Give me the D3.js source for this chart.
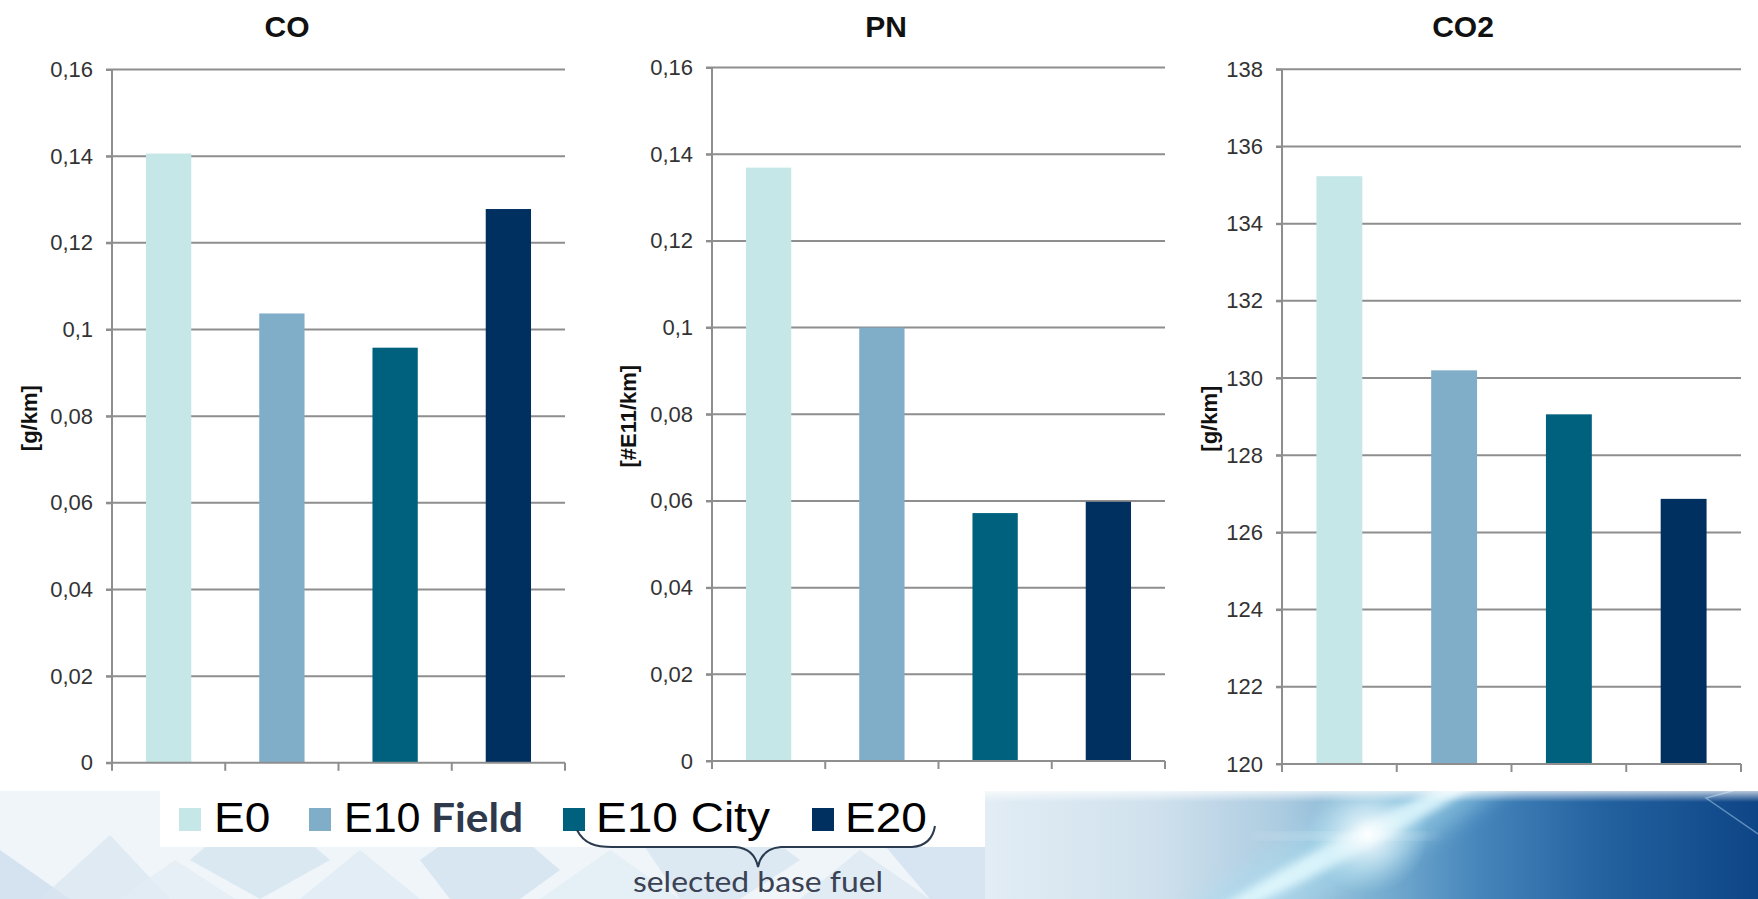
<!DOCTYPE html>
<html>
<head>
<meta charset="utf-8">
<script src="https://cdn.jsdelivr.net/npm/d3@7/dist/d3.min.js"></script>
<style>
  html, body { margin: 0; padding: 0; background: #ffffff; }
  svg { display: block; }
</style>
</head>
<body>
<svg id="chart" width="1758" height="899"></svg>
<script>
// ---- data ----
const fuels = ["E0", "E10 Field", "E10 City", "E20"];
const coValues  = [0.1406, 0.1037, 0.0958, 0.1278];
const pnValues  = [0.1369, 0.1000, 0.0572, 0.0598];
const co2Values = [135.23, 130.20, 129.06, 126.87];
const coTicks  = [0, 0.02, 0.04, 0.06, 0.08, 0.1, 0.12, 0.14, 0.16];
const pnTicks  = [0, 0.02, 0.04, 0.06, 0.08, 0.1, 0.12, 0.14, 0.16];
const co2Ticks = [120, 122, 124, 126, 128, 130, 132, 134, 136, 138];
const panelTitles = ["CO", "PN", "CO2"];
const unitLabels = ["[g/km]", "[#E11/km]", "[g/km]"];
const braceNote = "selected base fuel";

// ---- styling ----
const palette = ["#c6e7e7", "#80aec8", "#00617f", "#00305f"];
const gridColor = "#8e8e8e";
const sans = "'Liberation Sans', Arial, sans-serif";

const svg = d3.select("#chart");
const defs = svg.append("defs");

// ---- slide backdrop below the chart area ----
const bg = svg.append("g");
const grad = defs.append("linearGradient").attr("id", "blueBand")
  .attr("x1", "0%").attr("x2", "100%").attr("y1", "0%").attr("y2", "0%");
[["0%", "#e2edf5"], ["22%", "#d0e1ed"], ["38%", "#adcce1"], ["50%", "#7cb1d2"],
 ["64%", "#4585bb"], ["80%", "#23619f"], ["100%", "#0e4586"]]
  .forEach(([o, c]) => grad.append("stop").attr("offset", o).attr("stop-color", c));

const haze = defs.append("linearGradient").attr("id", "topHaze")
  .attr("x1", "0").attr("x2", "0").attr("y1", "0").attr("y2", "1");
haze.append("stop").attr("offset", "0%").attr("stop-color", "#ffffff").attr("stop-opacity", 0.9);
haze.append("stop").attr("offset", "100%").attr("stop-color", "#ffffff").attr("stop-opacity", 0);

const glow = defs.append("radialGradient").attr("id", "glow");
glow.append("stop").attr("offset", "0%").attr("stop-color", "#ffffff").attr("stop-opacity", 0.95);
glow.append("stop").attr("offset", "45%").attr("stop-color", "#e6f6fb").attr("stop-opacity", 0.55);
glow.append("stop").attr("offset", "100%").attr("stop-color", "#bfe8f2").attr("stop-opacity", 0);

defs.append("filter").attr("id", "soft").attr("x", "-50%").attr("y", "-50%")
  .attr("width", "200%").attr("height", "200%")
  .append("feGaussianBlur").attr("stdDeviation", 4);
defs.append("filter").attr("id", "softer").attr("x", "-50%").attr("y", "-50%")
  .attr("width", "200%").attr("height", "200%")
  .append("feGaussianBlur").attr("stdDeviation", 10);

// pale geometric pattern on the left
bg.append("rect").attr("x", 0).attr("y", 790).attr("width", 990).attr("height", 109).attr("fill", "#eff5f9");
const shards = [
  [[0, 850], [70, 899], [0, 899]],
  [[40, 899], [110, 835], [170, 899]],
  [[120, 899], [175, 860], [235, 899]],
  [[190, 860], [260, 800], [330, 860], [260, 899]],
  [[300, 899], [360, 850], [420, 899]],
  [[420, 860], [490, 810], [560, 870], [520, 899], [450, 899]],
  [[540, 899], [610, 850], [680, 899]],
  [[640, 840], [720, 800], [800, 860], [740, 899], [680, 899]],
  [[800, 899], [860, 850], [930, 899]],
  [[880, 840], [950, 800], [990, 830], [990, 899], [930, 899]]
];
const shardColors = ["#cadced", "#d8e6f1", "#e3edf5", "#d2e2ef", "#dde9f3",
                     "#cfdfee", "#e1ecf5", "#d5e4f0", "#dbe7f2", "#cddef0"];
bg.selectAll("polygon.shard").data(shards).join("polygon")
  .attr("class", "shard")
  .attr("points", d => d.map(p => p.join(",")).join(" "))
  .attr("fill", (d, i) => shardColors[i])
  .attr("opacity", 0.7);

// blue band with light flare on the right
bg.append("rect").attr("x", 985).attr("y", 790).attr("width", 773).attr("height", 109).attr("fill", "url(#blueBand)");
bg.append("ellipse").attr("cx", 1350).attr("cy", 845).attr("rx", 210).attr("ry", 34)
  .attr("transform", "rotate(-28 1350 845)")
  .attr("fill", "#a9def0").attr("opacity", 0.45).attr("filter", "url(#softer)");
bg.append("ellipse").attr("cx", 1355).attr("cy", 842).attr("rx", 170).attr("ry", 11)
  .attr("transform", "rotate(-28 1355 842)")
  .attr("fill", "#e4faff").attr("opacity", 0.85).attr("filter", "url(#soft)");
bg.append("circle").attr("cx", 1368).attr("cy", 834).attr("r", 60).attr("fill", "url(#glow)");
bg.append("ellipse").attr("cx", 1345).attr("cy", 836).attr("rx", 95).attr("ry", 2.5)
  .attr("fill", "#ffffff").attr("opacity", 0.35).attr("filter", "url(#soft)");
bg.append("path").attr("d", "M1758,784 L1706,798 L1758,834")
  .attr("fill", "none").attr("stroke", "#8fbde0").attr("stroke-width", 1.5).attr("opacity", 0.6);
bg.append("rect").attr("x", 985).attr("y", 788).attr("width", 773).attr("height", 14).attr("fill", "url(#topHaze)");

// white chart area and legend box
bg.append("rect").attr("x", 0).attr("y", 0).attr("width", 1758).attr("height", 791).attr("fill", "#ffffff");
bg.append("rect").attr("x", 160).attr("y", 790).attr("width", 825).attr("height", 57).attr("fill", "#ffffff");

// ---- panels ----
const panels = [
  { values: coValues,  ticks: coTicks,  x0: 112,  x1: 565,  yTop: 69.5, yBot: 762.8, titleX: 287,  unitX: 29 },
  { values: pnValues,  ticks: pnTicks,  x0: 712,  x1: 1165, yTop: 67.5, yBot: 761,   titleX: 886,  unitX: 628 },
  { values: co2Values, ticks: co2Ticks, x0: 1282, x1: 1741, yTop: 69.3, yBot: 764,   titleX: 1463, unitX: 1209 }
];

const fmt = v => String(+v.toFixed(2)).replace(".", ",");

panels.forEach((p, k) => {
  const g = svg.append("g");
  const y = d3.scaleLinear()
    .domain([p.ticks[0], p.ticks[p.ticks.length - 1]])
    .range([p.yBot, p.yTop]);
  const xBand = d3.scaleBand().domain(fuels).range([p.x0, p.x1])
    .paddingInner(0.6).paddingOuter(0.3);
  const slots = d3.scaleBand().domain(fuels).range([p.x0, p.x1]);

  // horizontal gridlines (with the small left tick)
  g.selectAll("line.grid").data(p.ticks.slice(1)).join("line")
    .attr("class", "grid")
    .attr("x1", p.x0 - 6).attr("x2", p.x1)
    .attr("y1", d => y(d)).attr("y2", d => y(d))
    .attr("stroke", gridColor).attr("stroke-width", 2);

  // bars
  g.selectAll("rect.bar").data(p.values).join("rect")
    .attr("class", "bar")
    .attr("x", (d, i) => xBand(fuels[i]))
    .attr("width", xBand.bandwidth())
    .attr("y", d => y(d))
    .attr("height", d => y(p.ticks[0]) - y(d))
    .attr("fill", (d, i) => palette[i]);

  // y axis with labels
  const yAxis = d3.axisLeft(y).tickValues(p.ticks).tickSize(6).tickPadding(13).tickFormat(fmt);
  const ag = g.append("g").attr("transform", `translate(${p.x0},0)`).call(yAxis);
  ag.select(".domain").attr("stroke", gridColor).attr("stroke-width", 2)
    .attr("d", `M0,${p.yTop}V${p.yBot}`);
  ag.selectAll(".tick line").attr("stroke", gridColor).attr("stroke-width", 2);
  ag.selectAll(".tick text")
    .attr("font-family", sans).attr("font-size", 22).attr("fill", "#333333");

  // category axis: baseline and slot boundary ticks
  g.append("line").attr("x1", p.x0 - 6).attr("x2", p.x1)
    .attr("y1", p.yBot).attr("y2", p.yBot)
    .attr("stroke", gridColor).attr("stroke-width", 2);
  const bounds = fuels.map(f => slots(f)).concat([p.x1]);
  g.selectAll("line.cat").data(bounds).join("line")
    .attr("class", "cat")
    .attr("x1", d => d).attr("x2", d => d)
    .attr("y1", p.yBot).attr("y2", p.yBot + 8)
    .attr("stroke", gridColor).attr("stroke-width", 2);

  // title
  g.append("text").attr("x", p.titleX).attr("y", 37)
    .attr("text-anchor", "middle")
    .attr("font-family", sans).attr("font-weight", "bold").attr("font-size", 30)
    .attr("fill", "#111111").text(panelTitles[k]);

  // unit label
  const cy = (p.yTop + p.yBot) / 2 + 2;
  g.append("text")
    .attr("transform", `translate(${p.unitX + 8},${cy}) rotate(-90)`)
    .attr("text-anchor", "middle")
    .attr("font-family", sans).attr("font-weight", "bold").attr("font-size", 22)
    .attr("fill", "#111111").text(unitLabels[k]);
});

// ---- legend ----
const legend = svg.append("g");
const legendSwatchX = [179, 309, 563, 812];
const legendTextX = [214, 344, 596, 845];
legend.selectAll("rect").data(fuels).join("rect")
  .attr("x", (d, i) => legendSwatchX[i]).attr("y", 808)
  .attr("width", 22).attr("height", 23)
  .attr("fill", (d, i) => palette[i]);
legend.selectAll("text.lg").data(fuels).join("text")
  .attr("class", "lg")
  .attr("x", (d, i) => legendTextX[i]).attr("y", 832)
  .attr("font-family", sans).attr("font-size", 43).attr("fill", "#000000")
  .each(function (d) {
    const t = d3.select(this);
    if (d === "E10 Field") {
      t.append("tspan").text("E10");
      t.append("tspan").attr("x", 431)
        .attr("font-family", "Lato, 'Open Sans', sans-serif").attr("font-weight", 700)
        .attr("font-size", 40).attr("fill", "#2e3a4b")
        .attr("textLength", 92).attr("lengthAdjust", "spacingAndGlyphs")
        .text("Field");
    } else {
      t.text(d);
      // the legend lettering runs slightly wide
      const w = this.getComputedTextLength();
      t.attr("textLength", w * 1.07).attr("lengthAdjust", "spacingAndGlyphs");
    }
  });

// brace grouping the last two fuels
legend.append("path")
  .attr("d", "M577,830 C584,844 596,847 612,847 L735,847 C750,848 756,857 758,867 C760,857 766,848 781,847 L912,847 C926,846 933,838 935,826")
  .attr("fill", "none").attr("stroke", "#2a3a4f").attr("stroke-width", 2);
legend.append("text").attr("x", 758).attr("y", 892)
  .attr("text-anchor", "middle")
  .attr("font-family", "Lato, 'Open Sans', sans-serif").attr("font-size", 28)
  .attr("fill", "#3a4254")
  .attr("textLength", 250).attr("lengthAdjust", "spacingAndGlyphs")
  .text(braceNote);
</script>
</body>
</html>
